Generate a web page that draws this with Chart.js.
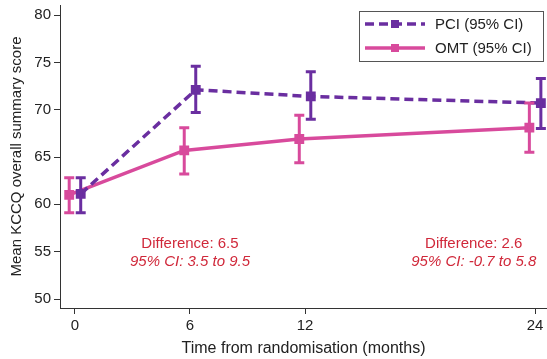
<!DOCTYPE html>
<html>
<head>
<meta charset="utf-8">
<script src="https://cdn.jsdelivr.net/npm/chart.js@4"></script>
<style>
  html, body { margin: 0; padding: 0; background: #fff; }
  #wrap { width: 547px; height: 359px; }
</style>
</head>
<body>
<div id="wrap"><canvas id="kccqChart" width="547" height="359"></canvas></div>
<script>
// Данные
const months = [0, 6, 12, 24];
const yTicks = [50, 55, 60, 65, 70, 75, 80];

const pciMean = [61.1, 72.1, 71.4, 70.7];
const pciLow = [59.1, 69.7, 69.0, 68.0];
const pciHigh = [62.8, 74.6, 74.0, 73.3];

const omtMean = [61.0, 65.7, 66.9, 68.1];
const omtLow = [59.1, 63.2, 64.4, 65.5];
const omtHigh = [62.8, 68.1, 69.4, 70.7];

const seriesNames = ['PCI (95% CI)', 'OMT (95% CI)'];
const notes = [
    { month: 6, lines: ['Difference: 6.5', '95% CI: 3.5 to 9.5'] },
    { month: 20.8, lines: ['Difference: 2.6', '95% CI: -0.7 to 5.8'] }
];

const purple = '#6a2ea0';
const pink = '#d84a9c';
const noteColor = '#d0283a';
const font = '"Liberation Sans", Arial, sans-serif';
const shift = 0.3; // сдвиг точек по оси X, чтобы интервалы не перекрывались

function points(mean, dx) {
    return months.map((m, i) => ({ x: m + dx, y: mean[i] }));
}

// Планки погрешностей
const errorBars = {
    id: 'errorBars',
    afterDatasetsDraw(chart) {
        const ctx = chart.ctx;
        const xs = chart.scales.x, ys = chart.scales.y;
        chart.data.datasets.forEach(ds => {
            ctx.save();
            ctx.strokeStyle = ds.borderColor;
            ctx.lineWidth = 3;
            ctx.setLineDash([]);
            ds.data.forEach((p, i) => {
                const x = xs.getPixelForValue(p.x);
                const y1 = ys.getPixelForValue(ds.low[i]);
                const y2 = ys.getPixelForValue(ds.high[i]);
                ctx.beginPath();
                ctx.moveTo(x, y1); ctx.lineTo(x, y2);
                ctx.moveTo(x - 5, y1); ctx.lineTo(x + 5, y1);
                ctx.moveTo(x - 5, y2); ctx.lineTo(x + 5, y2);
                ctx.stroke();
            });
            ctx.restore();
        });
    }
};

// Подписи с разницей и легенда
const extras = {
    id: 'extras',
    afterDraw(chart) {
        const ctx = chart.ctx;
        const xs = chart.scales.x, ys = chart.scales.y;
        ctx.save();
        ctx.fillStyle = noteColor;
        ctx.textAlign = 'center';
        ctx.textBaseline = 'middle';
        notes.forEach(n => {
            const x = xs.getPixelForValue(n.month);
            ctx.font = '15px ' + font;
            ctx.fillText(n.lines[0], x, ys.getPixelForValue(55.8));
            ctx.font = 'italic 15px ' + font;
            ctx.fillText(n.lines[1], x, ys.getPixelForValue(53.9));
        });

        // легенда
        const area = chart.chartArea;
        const bx = area.right - 188, by = area.top + 6, bw = 184, bh = 50;
        ctx.fillStyle = '#fff';
        ctx.fillRect(bx, by, bw, bh);
        ctx.strokeStyle = '#555';
        ctx.lineWidth = 1;
        ctx.strokeRect(bx + 0.5, by + 0.5, bw, bh);
        chart.data.datasets.forEach((ds, i) => {
            const y = by + 13 + i * 24;
            ctx.strokeStyle = ds.borderColor;
            ctx.lineWidth = 3.5;
            ctx.setLineDash(ds.borderDash || []);
            ctx.beginPath();
            ctx.moveTo(bx + 6, y); ctx.lineTo(bx + 66, y);
            ctx.stroke();
            ctx.setLineDash([]);
            ctx.fillStyle = ds.borderColor;
            ctx.fillRect(bx + 32, y - 4, 8, 8);
            ctx.fillStyle = '#222';
            ctx.font = '15px ' + font;
            ctx.textAlign = 'left';
            ctx.fillText(ds.label, bx + 76, y + 1);
        });
        ctx.restore();
    }
};

const ctx = document.getElementById('kccqChart').getContext('2d');
const chart = new Chart(ctx, {
    type: 'line',
    data: {
        datasets: [{
            label: seriesNames[0],
            data: points(pciMean, shift),
            low: pciLow,
            high: pciHigh,
            borderColor: purple,
            backgroundColor: purple,
            borderWidth: 3.5,
            borderDash: [9, 5],
            pointStyle: 'rect',
            pointRadius: 4.5,
            pointHoverRadius: 4.5
        }, {
            label: seriesNames[1],
            data: points(omtMean, -shift),
            low: omtLow,
            high: omtHigh,
            borderColor: pink,
            backgroundColor: pink,
            borderWidth: 3.5,
            pointStyle: 'rect',
            pointRadius: 4.5,
            pointHoverRadius: 4.5
        }]
    },
    options: {
        responsive: false,
        animation: false,
        layout: { autoPadding: false, padding: { top: 5, right: 0, left: 0, bottom: 0 } },
        plugins: {
            legend: { display: false },
            tooltip: { enabled: false }
        },
        scales: {
            x: {
                type: 'linear',
                min: -0.78,
                max: 24.62,
                afterBuildTicks: s => { s.ticks = months.map(v => ({ value: v })); },
                afterFit: s => {
                    s.height = 51;
                    s.paddingLeft = 0;
                    s.paddingRight = 0;
                },
                grid: { drawOnChartArea: false, drawTicks: true, tickLength: 6, color: '#333' },
                border: { display: true, color: '#333', width: 1 },
                ticks: { color: '#222', font: { family: font, size: 15 }, padding: 3 },
                title: {
                    display: true,
                    text: 'Time from randomisation (months)',
                    color: '#222',
                    font: { family: font, size: 16 },
                    padding: { top: 0, bottom: 1 }
                }
            },
            y: {
                type: 'linear',
                min: 49.05,
                max: 81.06,
                afterBuildTicks: s => { s.ticks = yTicks.map(v => ({ value: v })); },
                afterFit: s => {
                    s.width = 60;
                    s.paddingTop = 0;
                    s.paddingBottom = 0;
                },
                grid: { drawOnChartArea: false, drawTicks: true, tickLength: 6, color: '#333' },
                border: { display: true, color: '#333', width: 1 },
                ticks: { color: '#222', font: { family: font, size: 15 }, padding: 3 },
                title: {
                    display: true,
                    text: 'Mean KCCQ overall summary score',
                    color: '#222',
                    font: { family: font, size: 15 },
                    padding: { top: 8, bottom: 0 }
                }
            }
        }
    },
    plugins: [errorBars, extras]
});
</script>
</body>
</html>
